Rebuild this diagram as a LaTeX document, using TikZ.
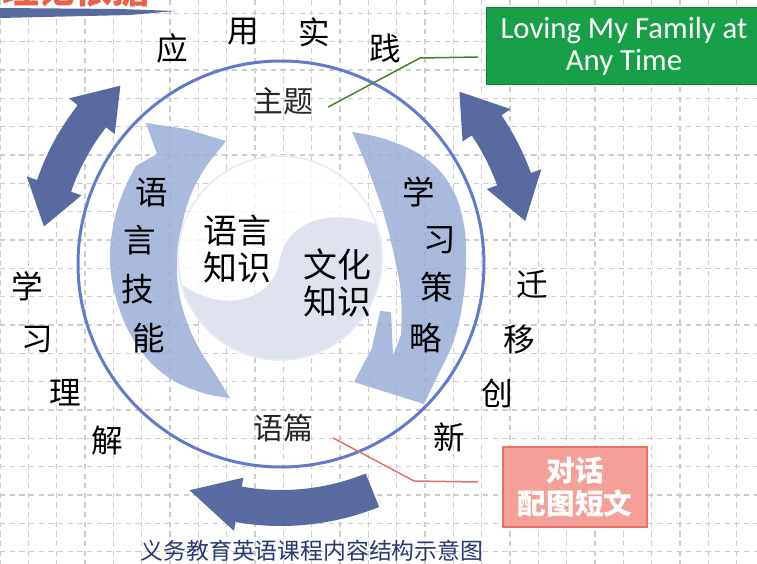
\documentclass[tikz,border=0pt]{standalone}
\usepackage{fontspec}
\setmainfont{Noto Sans CJK SC}
\newfontfamily\latfont{Carlito}

\definecolor{gridgray}{RGB}{206,206,206}
\definecolor{ringblue}{RGB}{98,122,204}
\definecolor{brushblue}{RGB}{156,174,214}
\definecolor{darkarrow}{RGB}{88,106,160}
\definecolor{yinblue}{RGB}{222,226,239}
\definecolor{boxgreen}{RGB}{24,160,72}
\definecolor{linegreen}{RGB}{70,130,45}
\definecolor{boxpink}{RGB}{244,160,152}
\definecolor{linepink}{RGB}{232,112,100}
\definecolor{titlered}{RGB}{236,96,72}
\definecolor{capblue}{RGB}{40,56,112}

\tikzset{
  gridline/.style={draw=gridgray, line width=0.7pt, dash pattern=on 3pt off 2.5pt},
  ring/.style={draw=ringblue, line width=1.7pt},
  brush/.style={fill=brushblue, fill opacity=0.85},
  darkarc/.style={fill=darkarrow},
  outer/.style={inner sep=0pt, font=\fontsize{18}{20}\selectfont},
  inner/.style={inner sep=0pt, font=\fontsize{18.5}{20}\selectfont},
  topic/.style={inner sep=0pt, text=black!85, font=\fontsize{17}{20}\selectfont},
  knowledge/.style={inner sep=0pt, align=center, font=\fontsize{19.3}{21}\selectfont},
  greenbox/.style={fill=boxgreen, draw=boxgreen!80!black, text=white, align=center,
    inner sep=0pt, minimum width=5.5cm, minimum height=1.54cm,
    font=\latfont\fontsize{17.5}{18.2}\selectfont},
  pinkbox/.style={fill=boxpink, draw=linepink, line width=0.8pt, text=white, align=center,
    inner sep=0pt, minimum width=2.88cm, minimum height=1.6cm,
    font=\bfseries\fontsize{16.3}{18.7}\selectfont},
  greenline/.style={draw=linegreen, line width=0.85pt},
  pinkline/.style={draw=linepink, line width=0.85pt},
  heading/.style={anchor=base east, inner sep=0pt, text=titlered,
    font=\bfseries\fontsize{21}{21}\selectfont},
  caption/.style={inner sep=0pt, text=capblue, font=\fontsize{13}{15}\selectfont}
}

% radius, half band, half head, tip, base, base, tip
\newcommand{\ringarrow}[7]{%
  \fill [darkarc] (#4:#1) -- (#5:{#1+#3}) -- (#5:{#1+#2})
    arc[start angle=#5, end angle=#6, radius={#1+#2}]
    -- (#6:{#1+#3}) -- (#7:#1) -- (#6:{#1-#3}) -- (#6:{#1-#2})
    arc[start angle=#6, end angle=#5, radius={#1-#2}]
    -- (#5:{#1-#3}) -- cycle;}

\begin{document}
\begin{tikzpicture}[x=0.02cm, y=-0.02cm]
\useasboundingbox (0,0) rectangle (757,564);
\fill [white] (0,0) rectangle (757,564);
% grid paper
\foreach \i in {0,...,26}
  \draw [gridline] ({\i*28.33},0) -- ({\i*28.33},564);
\foreach \j in {0,...,19}
  \draw [gridline] (0,{13.3+\j*28.33}) -- (757,{13.3+\j*28.33});

% heading, cut by the page edge
\fill [darkarrow] (0,8) -- (120,9) -- (175,11) -- (130,15) -- (0,18) -- cycle;
\node [heading] (hd) at (150,4) {理论依据};

% outer arrows
\begin{scope}[shift={(281,264)}]
  \ringarrow{240}{18}{29}{-171}{-161}{-142}{-132}
  \ringarrow{248}{18}{29}{-44}{-34}{-20}{-10}
  \fill [darkarc] (68:262) arc[start angle=68, end angle=100, radius=262]
    -- (100:271) -- (112:244) -- (100:217) -- (100:226)
    arc[start angle=100, end angle=68, radius=226] -- cycle;
\end{scope}

\draw [ring] (281,264) circle[radius=203];

% brush arrows
\fill [brush] plot[smooth, tension=0.7] coordinates {(230,398) (200,392) (165,375)
    (137,345) (118,305) (110,262) (114,222) (124,190) (136,166)}
  -- (157,154) -- (146,123) -- (186,129) -- (226,141)
  -- plot[smooth, tension=0.7] coordinates {(207,165) (192,192) (182,225)
    (177,260) (179,292) (187,322) (200,350) (216,375) (230,398)} -- cycle;
\fill [brush] plot[smooth, tension=0.7] coordinates {(352,132) (388,140) (425,158)
    (450,185) (463,220) (466,260) (463,300) (454,340) (438,375) (424,404)}
  -- (354,382) -- (372,348) -- (380,311) -- (391,312) -- (393,355)
  -- plot[smooth, tension=0.7] coordinates {(401,335) (401,295) (394,255)
    (384,215) (372,180) (360,150) (352,132)} -- cycle;

% yin yang
\begin{scope}[shift={(280,258)}]
  \fill [white, fill opacity=0.8] (0,0) circle[radius=102];
  \fill [yinblue, fill opacity=0.95] (-19:102) arc[start angle=-19, end angle=165, radius=102]
    .. controls (-55,57) and (-5,42) .. (0,0)
    .. controls (10,-43) and (60,-48) .. (-19:102) -- cycle;
  \draw [yinblue!70, line width=1pt] (0,0) circle[radius=102];
\end{scope}

\node [outer] (ying) at (172,48) {应};
\node [outer] (yong) at (243,32) {用};
\node [outer] (shi) at (314,32) {实};
\node [outer] (jian) at (385,48) {践};
\node [outer] (xue) at (27,286) {学};
\node [outer] (xi) at (37,340) {习};
\node [outer] (li) at (65,393) {理};
\node [outer] (jie) at (107,441) {解};
\node [outer] (qian) at (532,284) {迁};
\node [outer] (yi) at (519,340) {移};
\node [outer] (chuang) at (497,393) {创};
\node [outer] (xin) at (449,437) {新};

\node [inner] (s1) at (152,193) {语};
\node [inner] (s2) at (140,240) {言};
\node [inner] (s3) at (138,289) {技};
\node [inner] (s4) at (149,338) {能};
\node [inner] (c1) at (419,192) {学};
\node [inner] (c2) at (440,240) {习};
\node [inner] (c3) at (437,287) {策};
\node [inner] (c4) at (426,338) {略};

\node [knowledge] (yk) at (237,249) {语言\\知识};
\node [knowledge] (wk) at (337,283) {文化\\知识};

\node [topic] (zt) at (283,101) {主题};
\node [topic] (yp) at (283,428) {语篇};

\node [greenbox] (unit) at (624,46) {Loving My Family at\\Any Time};
\node [pinkbox] (genre) at (575,487) {对话\\配图短文};

\coordinate (g1) at (420,58);
\coordinate (g2) at (478,57);
\draw [greenline] ([shift={(15,6)}]zt.east) -- (g1) -- (g2);
\coordinate (p1) at (414,481);
\coordinate (p2) at (478,482);
\draw [pinkline] ([shift={(20,10)}]yp.east) -- (p1) -- (p2);

\node [caption] (cap) at (312,551) {义务教育英语课程内容结构示意图};
\end{tikzpicture}
\end{document}
